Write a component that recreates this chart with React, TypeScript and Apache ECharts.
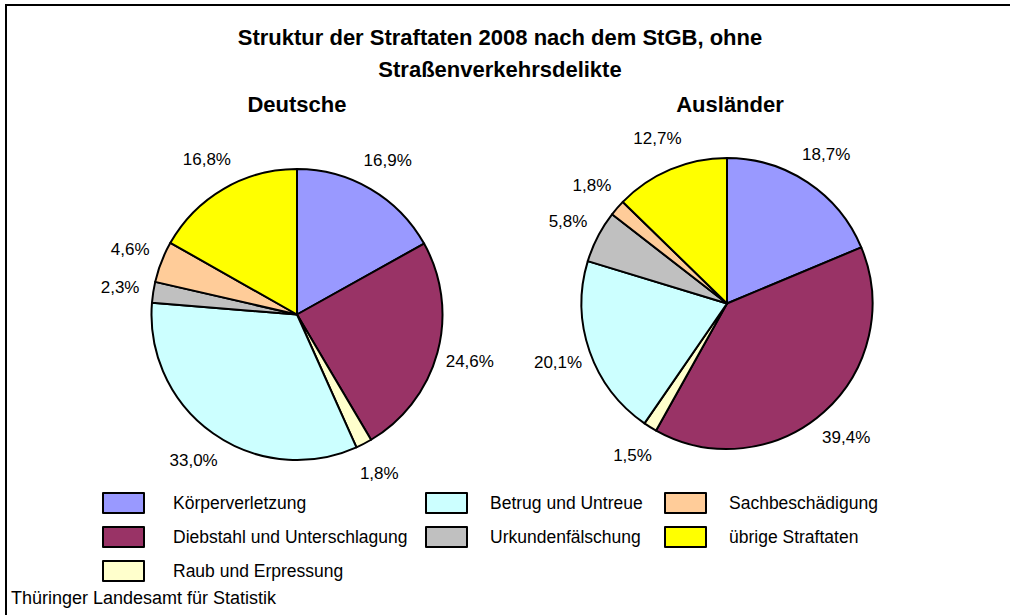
import React, { useEffect, useRef } from "react";
import * as echarts from "echarts";

const categories = [
  "Körperverletzung",
  "Diebstahl und Unterschlagung",
  "Raub und Erpressung",
  "Betrug und Untreue",
  "Urkundenfälschung",
  "Sachbeschädigung",
  "übrige Straftaten",
];
const deutscheValues = [16.9, 24.6, 1.8, 33.0, 2.3, 4.6, 16.8];
const auslaenderValues = [18.7, 39.4, 1.5, 20.1, 5.8, 1.8, 12.7];
const sliceColors = ["#9999FF", "#993366", "#FFFFCC", "#CCFFFF", "#C0C0C0", "#FFCC99", "#FFFF00"];

const titleLine1 = "Struktur der Straftaten 2008 nach dem StGB, ohne";
const titleLine2 = "Straßenverkehrsdelikte";
const pieTitles = ["Deutsche", "Ausländer"];
const sourceText = "Thüringer Landesamt für Statistik";

const FONT = '"Liberation Sans", Arial, Helvetica, sans-serif';
const PIES = [
  { cx: 297, cy: 314.5, r: 145.5, values: deutscheValues },
  { cx: 727, cy: 303.5, r: 145.5, values: auslaenderValues },
];
const LABEL_R = 179;

function midAngle(values: number[], idx: number) {
  const total = values.reduce((a, b) => a + b, 0);
  let acc = 0;
  for (let i = 0; i < idx; i++) acc += values[i];
  acc += values[idx] / 2;
  return (acc / total) * Math.PI * 2;
}

export default function App() {
  const ref = useRef<HTMLDivElement>(null);
  useEffect(() => {
    if (!ref.current) return;
    const chart = echarts.init(ref.current, undefined, { renderer: "svg" });
    const fmt = (p: any) => p.value.toFixed(1).replace(".", ",") + "%";
    const series = PIES.map((pie, si) => ({
      type: "pie",
      name: pieTitles[si],
      center: [pie.cx, pie.cy],
      radius: pie.r,
      startAngle: 90,
      clockwise: true,
      avoidLabelOverlap: false,
      silent: true,
      itemStyle: { borderColor: "#000", borderWidth: 2 },
      label: {
        show: true,
        position: "outside",
        formatter: fmt,
        color: "#000",
        fontFamily: FONT,
        fontSize: 17,
      },
      labelLine: { show: false },
      labelLayout: (params: any) => {
        const a = midAngle(pie.values, params.dataIndex);
        return {
          x: pie.cx + LABEL_R * Math.sin(a),
          y: pie.cy - LABEL_R * Math.cos(a),
          align: "center",
          verticalAlign: "middle",
        };
      },
      data: categories.map((c, i) => ({
        name: c,
        value: pie.values[i],
        itemStyle: { color: sliceColors[i] },
      })),
    }));
    const legendCols = [
      { left: 102, pad: 24, names: categories.slice(0, 3) },
      { left: 425, pad: 18, names: [categories[3], categories[4]] },
      { left: 664, pad: 18, names: [categories[5], categories[6]] },
    ];
    const titleFont = `bold 22px ${FONT}`;
    chart.setOption({
      animation: false,
      backgroundColor: "#fff",
      legend: legendCols.map((col) => ({
        orient: "vertical",
        left: col.left,
        top: 492,
        padding: 0,
        itemWidth: 41,
        itemHeight: 20,
        itemGap: 12,
        icon: "rect",
        selectedMode: false,
        data: col.names,
        itemStyle: { borderColor: "#000", borderWidth: 2 },
        textStyle: { fontFamily: FONT, fontSize: 17.5, color: "#000", padding: [0, 0, 0, col.pad] },
      })),
      series,
      graphic: [
        {
          type: "rect",
          shape: { x: 6, y: 5, width: 1100, height: 700 },
          style: { fill: "none", stroke: "#000", lineWidth: 2 },
          silent: true,
        },
        {
          type: "text",
          x: 500,
          y: 37,
          style: { text: titleLine1, font: titleFont, fill: "#000", textAlign: "center", textVerticalAlign: "middle" },
        },
        {
          type: "text",
          x: 500,
          y: 69,
          style: { text: titleLine2, font: titleFont, fill: "#000", textAlign: "center", textVerticalAlign: "middle" },
        },
        {
          type: "text",
          x: 297,
          y: 104,
          style: { text: pieTitles[0], font: titleFont, fill: "#000", textAlign: "center", textVerticalAlign: "middle" },
        },
        {
          type: "text",
          x: 730,
          y: 104,
          style: { text: pieTitles[1], font: titleFont, fill: "#000", textAlign: "center", textVerticalAlign: "middle" },
        },
        {
          type: "text",
          x: 11,
          y: 598,
          style: { text: sourceText, font: `18px ${FONT}`, fill: "#000", textAlign: "left", textVerticalAlign: "middle" },
        },
      ],
    });
    return () => chart.dispose();
  }, []);
  return <div ref={ref} style={{ position: "fixed", left: 0, top: 0, width: 1010, height: 615 }} />;
}
